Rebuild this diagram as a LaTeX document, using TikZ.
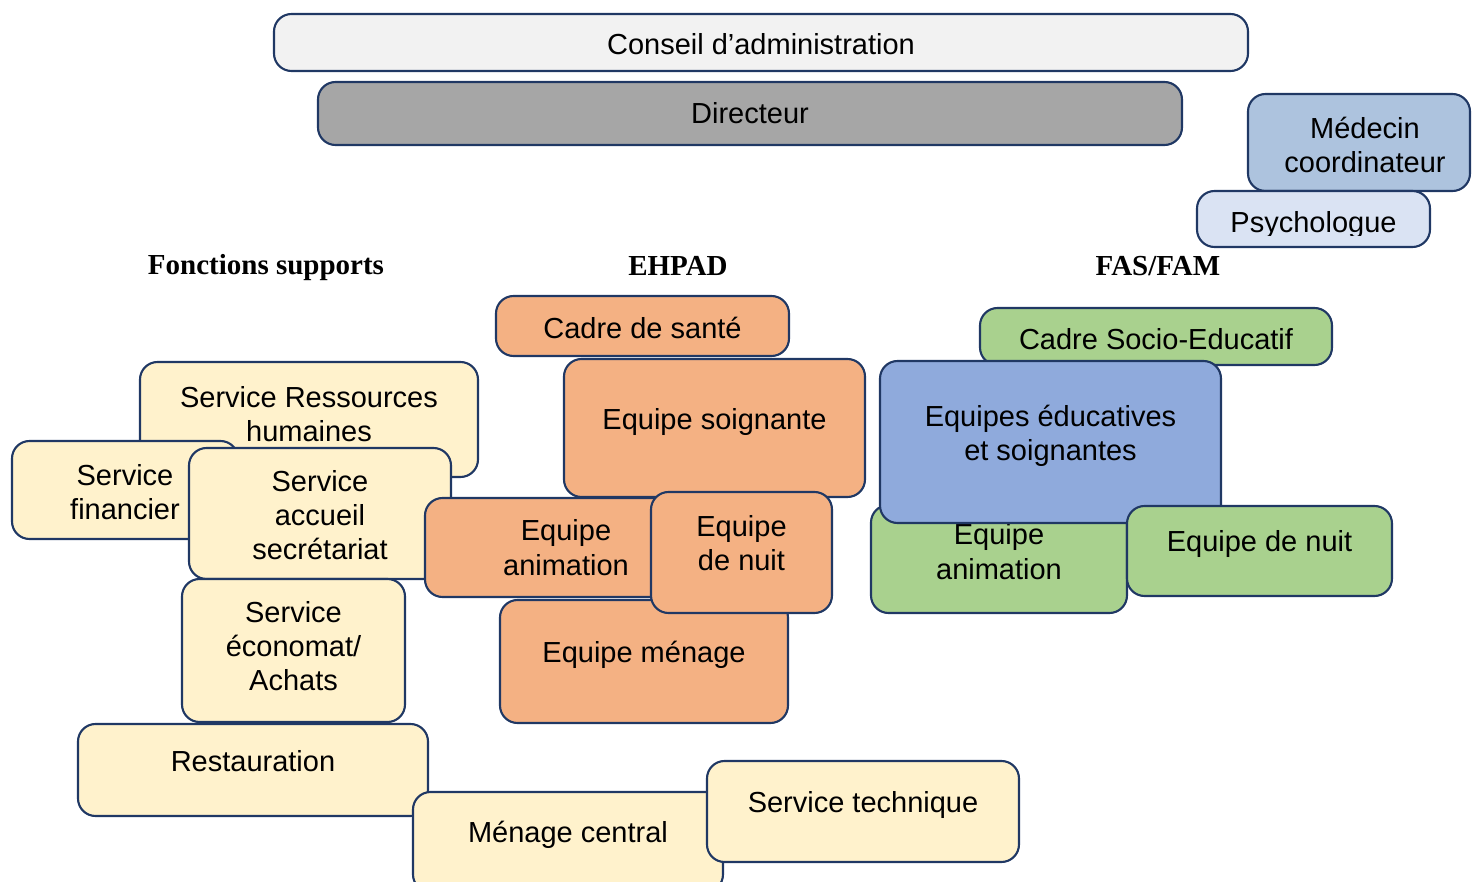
\documentclass[tikz,border=0pt]{standalone}
\usepackage{fontspec}
\setmainfont{Liberation Sans}
\newfontfamily\headfont{Liberation Serif}
\usepackage{tikz}
\definecolor{navy}{HTML}{203864}
\definecolor{cadmin}{HTML}{F2F2F2}
\definecolor{cdir}{HTML}{A6A6A6}
\definecolor{cmed}{HTML}{ADC3DE}
\definecolor{cpsy}{HTML}{DAE3F3}
\definecolor{csupp}{HTML}{FFF2CC}
\definecolor{cehpad}{HTML}{F4B183}
\definecolor{cfas}{HTML}{A9D18E}
\definecolor{cedu}{HTML}{8FAADC}

\begin{document}
\begin{tikzpicture}[
        box/.style={draw=navy, line width=1.2pt, rounded corners=0.35cm, inner sep=0pt},
        txt/.style={align=center, font=\fontsize{16.5}{19.5}\selectfont},
        every label/.style={txt},
        head/.style={font=\headfont\bfseries\fontsize{16.5}{19.5}\selectfont}]
        \useasboundingbox (0cm, 0cm) rectangle (29.46cm, -17.64cm);
        % direction
        \node (admin) [box, fill=cadmin, minimum width=19.48cm, minimum height=1.14cm, label={[yshift=-0.04cm]center:{Conseil d’administration}}] at (15.22cm, -0.85cm) {};
        \node (dir) [box, fill=cdir, minimum width=17.28cm, minimum height=1.26cm, label=center:{Directeur}] at (15.00cm, -2.27cm) {};
        \node (med) [box, fill=cmed, minimum width=4.44cm, minimum height=1.94cm, label={[xshift=0.12cm, yshift=-0.05cm]center:{Médecin\\coordinateur}}] at (27.18cm, -2.85cm) {};
        \node (psy) [box, fill=cpsy, minimum width=4.66cm, minimum height=1.12cm] at (26.27cm, -4.38cm) {};
        \begin{scope}
                \clip (psy.north west) rectangle ([yshift=0.26cm]psy.south east);
                \node (psy-t) [txt] at ([yshift=-0.12cm]psy.center) {Psychologue};
        \end{scope}
        % titres
        \node (h-supp) [head] at (5.32cm, -5.36cm) {Fonctions supports};
        \node (h-ehpad) [head] at (13.56cm, -5.32cm) {EHPAD};
        \node (h-fas) [head] at (23.16cm, -5.32cm) {FAS/FAM};
        % fonctions supports
        \node (rh) [box, fill=csupp, minimum width=6.76cm, minimum height=2.30cm, label={[yshift=0.11cm]center:{Service Ressources\\humaines}}] at (6.18cm, -8.39cm) {};
        \node (fin) [box, fill=csupp, minimum width=4.52cm, minimum height=1.96cm, label={[yshift=-0.04cm]center:{Service\\financier}}] at (2.50cm, -9.80cm) {};
        \node (acc) [box, fill=csupp, minimum width=5.24cm, minimum height=2.62cm, label={[yshift=-0.03cm]center:{Service\\accueil\\secrétariat}}] at (6.40cm, -10.27cm) {};
        \node (eco) [box, fill=csupp, minimum width=4.46cm, minimum height=2.86cm, label={[yshift=0.09cm]center:{Service\\économat/\\Achats}}] at (5.87cm, -13.01cm) {};
        \node (rest) [box, fill=csupp, minimum width=7.00cm, minimum height=1.84cm, label={[yshift=0.18cm]center:{Restauration}}] at (5.06cm, -15.40cm) {};
        \node (men) [box, fill=csupp, minimum width=6.20cm, minimum height=2.00cm, label={[yshift=0.14cm]center:{Ménage central}}] at (11.36cm, -16.84cm) {};
        \node (tech) [box, fill=csupp, minimum width=6.24cm, minimum height=2.02cm, label={[yshift=0.13cm]center:{Service technique}}] at (17.26cm, -16.23cm) {};
        % EHPAD
        \node (cs) [box, fill=cehpad, minimum width=5.86cm, minimum height=1.20cm, label={[yshift=-0.04cm]center:{Cadre de santé}}] at (12.85cm, -6.52cm) {};
        \node (soi) [box, fill=cehpad, minimum width=6.02cm, minimum height=2.76cm, label={[yshift=0.12cm]center:{Equipe soignante}}] at (14.29cm, -8.56cm) {};
        \node (anim) [box, fill=cehpad, minimum width=5.64cm, minimum height=1.98cm, label=center:{Equipe\\animation}] at (11.32cm, -10.95cm) {};
        \node (mena) [box, fill=cehpad, minimum width=5.76cm, minimum height=2.46cm, label={[yshift=0.13cm]center:{Equipe ménage}}] at (12.88cm, -13.23cm) {};
        \node (nuit) [box, fill=cehpad, minimum width=3.62cm, minimum height=2.42cm, label={[yshift=0.19cm]center:{Equipe\\de nuit}}] at (14.83cm, -11.05cm) {};
        % FAS/FAM
        \node (cse) [box, fill=cfas, minimum width=7.04cm, minimum height=1.14cm, label={[yshift=-0.05cm]center:{Cadre Socio-Educatif}}] at (23.12cm, -6.73cm) {};
        \node (fanim) [box, fill=cfas, minimum width=5.12cm, minimum height=2.16cm, label={[yshift=0.15cm]center:{Equipe\\animation}}] at (19.98cm, -11.18cm) {};
        \node (edu) [box, fill=cedu, minimum width=6.82cm, minimum height=3.24cm, label={[yshift=0.12cm]center:{Equipes éducatives\\et soignantes}}] at (21.01cm, -8.84cm) {};
        \node (fnuit) [box, fill=cfas, minimum width=5.30cm, minimum height=1.80cm, label={[yshift=0.14cm]center:{Equipe de nuit}}] at (25.19cm, -11.02cm) {};
\end{tikzpicture}
\end{document}
